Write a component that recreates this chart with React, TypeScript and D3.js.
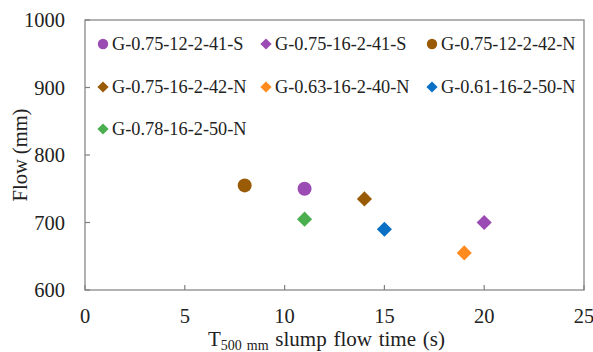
import React from "react";
import * as d3 from "d3";

const seriesNames = [
  "G-0.75-12-2-41-S",
  "G-0.75-16-2-41-S",
  "G-0.75-12-2-42-N",
  "G-0.75-16-2-42-N",
  "G-0.63-16-2-40-N",
  "G-0.61-16-2-50-N",
  "G-0.78-16-2-50-N",
];
const seriesShapes = ["circle", "diamond", "circle", "diamond", "diamond", "diamond", "diamond"];
const seriesColors = ["#9B4BB4", "#9B4BB4", "#9A5B06", "#9A5B06", "#FF8A1E", "#0A70C6", "#4CAF4F"];
const xValues = [11, 20, 8, 14, 19, 15, 11];
const yValues = [750, 700, 755, 735, 655, 690, 705];

const xTicks = [0, 5, 10, 15, 20, 25];
const yTicks = [600, 700, 800, 900, 1000];

const W = 593;
const H = 352;
const left = 85;
const right = 584;
const top = 20;
const bottom = 290;

const legendCols = [103, 266, 432];
const legendRows = [44, 87, 129];

function Mark({ shape, x, y, r, color }: { shape: string; x: number; y: number; r: number; color: string }) {
  if (shape === "circle") return <circle cx={x} cy={y} r={r} fill={color} />;
  const rr = r * 1.08;
  const p = d3.path();
  p.moveTo(x, y - rr);
  p.lineTo(x + rr, y);
  p.lineTo(x, y + rr);
  p.lineTo(x - rr, y);
  p.closePath();
  return <path d={p.toString()} fill={color} />;
}

export default function App() {
  const x = d3.scaleLinear().domain([0, 25]).range([left, right]);
  const y = d3.scaleLinear().domain([600, 1000]).range([bottom, top]);
  const font = "'Liberation Serif', 'Times New Roman', serif";
  const axisColor = "#7f7f7f";

  return (
    <svg width={W} height={H} style={{ position: "absolute", left: 0, top: 0, background: "#fff" }} fontFamily={font}>
      <rect x={0} y={0} width={W} height={H} fill="#fff" />
      <rect x={left} y={top} width={right - left} height={bottom - top} fill="none" stroke={axisColor} strokeWidth={1.2} />
      {yTicks.map((t) => (
        <g key={"y" + t}>
          <line x1={left} x2={left + 5} y1={y(t)} y2={y(t)} stroke={axisColor} strokeWidth={1.2} />
          <text x={65} y={y(t)} textAnchor="end" dominantBaseline="central" fontSize={20.5} fill="#222">
            {t}
          </text>
        </g>
      ))}
      {xTicks.map((t) => (
        <g key={"x" + t}>
          <line x1={x(t)} x2={x(t)} y1={bottom} y2={bottom - 5} stroke={axisColor} strokeWidth={1.2} />
          <text x={x(t)} y={323} textAnchor="middle" fontSize={20.5} fill="#222">
            {t}
          </text>
        </g>
      ))}
      <text transform={`translate(27,${(top + bottom) / 2}) rotate(-90)`} textAnchor="middle" fontSize={20.5} fill="#222">
        Flow (mm)
      </text>
      <text x={208} y={346} fontSize={21} fill="#222" wordSpacing={1.5}>
        <tspan>T</tspan>
        <tspan fontSize={14} dy={4}>500 mm</tspan>
        <tspan dy={-4}> slump flow time (s)</tspan>
      </text>
      {seriesNames.map((name, i) => (
        <Mark key={"m" + i} shape={seriesShapes[i]} x={x(xValues[i])} y={y(yValues[i])} r={7} color={seriesColors[i]} />
      ))}
      {seriesNames.map((name, i) => {
        const cx = legendCols[i % 3];
        const cy = legendRows[Math.floor(i / 3)];
        return (
          <g key={"l" + i}>
            <Mark shape={seriesShapes[i]} x={cx} y={cy} r={5.2} color={seriesColors[i]} />
            <text x={cx + 9} y={cy} dominantBaseline="central" fontSize={18.3} fill="#222">
              {name}
            </text>
          </g>
        );
      })}
    </svg>
  );
}
